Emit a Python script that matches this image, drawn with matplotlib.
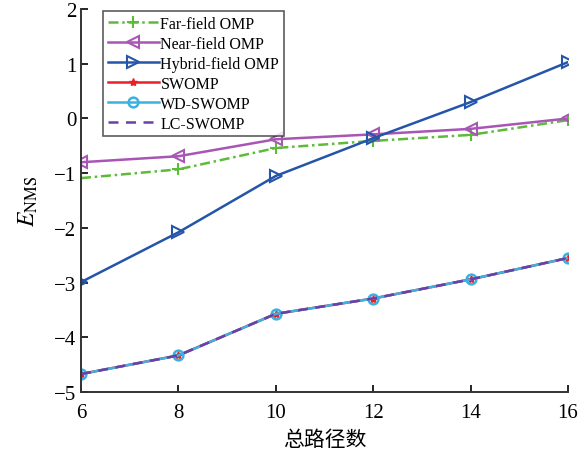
import matplotlib
matplotlib.use("Agg")
import matplotlib.pyplot as plt

plt.rcParams['font.family'] = ['Liberation Serif', 'Noto Sans CJK SC']
plt.rcParams['mathtext.fontset'] = 'stix'

paths = [6, 8, 10, 12, 14, 16]
far_field = [-1.09, -0.93, -0.54, -0.41, -0.30, -0.03]
near_field = [-0.80, -0.69, -0.38, -0.29, -0.19, 0.00]
hybrid_field = [-2.99, -2.08, -1.05, -0.36, 0.30, 1.03]
swomp = [-4.67, -4.33, -3.57, -3.29, -2.94, -2.55]
wd_swomp = [-4.67, -4.33, -3.57, -3.29, -2.94, -2.55]
lc_swomp = [-4.67, -4.33, -3.57, -3.29, -2.94, -2.55]

fig = plt.figure(figsize=(5.79, 4.56), dpi=100)
ax = fig.add_axes([0.14, 0.138, 0.841, 0.84])

ax.plot(paths, far_field, color='#5dbb3a', ls=(0, (4, 1.5, 1, 1.5)), lw=1.8, marker='+', ms=8, mew=1.5, label='Far-field OMP')
ax.plot(paths, near_field, color='#a855b5', ls='-', lw=1.8, marker='<', ms=8, mfc='none', mew=1.5, label='Near-field OMP')
ax.plot(paths, hybrid_field, color='#2455a8', ls='-', lw=1.8, marker='>', ms=8, mfc='none', mew=1.5, label='Hybrid-field OMP')
ax.plot(paths, swomp, color='#e8202a', ls='-', lw=1.8, marker='*', ms=6, label='SWOMP')
ax.plot(paths, wd_swomp, color='#3bb1e0', ls='-', lw=1.8, marker='o', ms=7, mfc='none', mew=1.8, label='WD-SWOMP')
ax.plot(paths, lc_swomp, color='#6a3fa8', ls=(0, (4, 3)), lw=1.8, label='LC-SWOMP')

ax.set_xlim(6, 16)
ax.set_ylim(-5, 2)
ax.set_xticks([6, 8, 10, 12, 14, 16])
ax.set_yticks(range(-5, 3))
ax.set_yticklabels(['\u22125', '\u22124', '\u22123', '\u22122', '\u22121', '0', '1', '2'])
ax.tick_params(direction='in', labelsize=15, width=1.2, length=5)
ax.tick_params(axis='x', pad=8)
for s in ['top', 'right']:
    ax.spines[s].set_visible(False)
for s in ['left', 'bottom']:
    ax.spines[s].set_linewidth(1.4)
    ax.spines[s].set_color('#333333')

ax.set_xlabel('总路径数', fontsize=15, family=['Noto Sans CJK SC'])
ax.set_ylabel(r'$E_{\mathrm{NMS}}$', fontsize=17, labelpad=10)

leg = ax.legend(loc='upper left', bbox_to_anchor=(0.045, 0.995), fontsize=11.5, frameon=True,
                fancybox=False, edgecolor='#333333', handlelength=3.2, borderpad=0.3,
                labelspacing=0.25, handletextpad=0.1, borderaxespad=0.0)
leg.get_frame().set_linewidth(1.2)

fig.savefig('out.png', dpi=100)
